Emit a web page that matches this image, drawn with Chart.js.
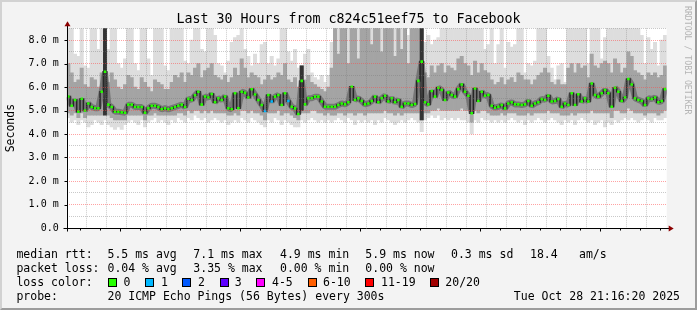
<!DOCTYPE html>
<html lang="en">
<head>
<meta charset="UTF-8">
<title>Last 30 Hours from c824c51eef75 to Facebook</title>
<style>
    body { margin: 0; background: #f3f3f3; }
    #wrap { position: relative; width: 697px; height: 310px; background: #f3f3f3; font-family: 'DejaVu Sans Mono', monospace; color: #000; overflow: hidden; }
    #chart { position: absolute; left: 0; top: 0; }
    .frame { position: absolute; left: 0; top: 0; width: 697px; height: 310px; box-sizing: border-box; border: 2px solid; border-color: #d2d2d2 #9c9c9c #9c9c9c #d2d2d2; pointer-events: none; }
    .title { position: absolute; left: 0; width: 697px; top: 10px; text-align: center; font-size: 13.3px; line-height: 18px; }
    .mark { position: absolute; left: 683px; top: 6px; writing-mode: vertical-rl; font-size: 8.2px; line-height: 10px; color: #b4b4b4; }
    .t { position: absolute; font-size: 11.5px; line-height: 14px; white-space: pre; }
    .box { position: absolute; top: 278px; width: 7px; height: 7px; border: 1px solid #000; }
</style>
</head>
<body>
<div id="wrap">
    <canvas id="chart" width="697" height="310"></canvas>
    <div class="title">Last 30 Hours from c824c51eef75 to Facebook</div>
    <div class="mark">RRDTOOL / TOBI OETIKER</div>

    <div class="t" style="left:16.4px;top:247px">median rtt:</div>
    <div class="t" style="left:107.5px;top:247px">5.5 ms avg</div>
    <div class="t" style="left:193.3px;top:247px">7.1 ms max</div>
    <div class="t" style="left:280px;top:247px">4.9 ms min</div>
    <div class="t" style="left:365.3px;top:247px">5.9 ms now</div>
    <div class="t" style="left:451px;top:247px">0.3 ms sd</div>
    <div class="t" style="left:530px;top:247px">18.4</div>
    <div class="t" style="left:579px;top:247px">am/s</div>

    <div class="t" style="left:16.4px;top:261px">packet loss:</div>
    <div class="t" style="left:107.5px;top:261px">0.04 % avg</div>
    <div class="t" style="left:193.3px;top:261px">3.35 % max</div>
    <div class="t" style="left:280px;top:261px">0.00 % min</div>
    <div class="t" style="left:365.3px;top:261px">0.00 % now</div>

    <div class="t" style="left:16.4px;top:275px">loss color:</div>
    <div class="box" style="left:108px;background:#26ff00"></div><div class="t" style="left:123.5px;top:275px">0</div>
    <div class="box" style="left:145.3px;background:#00b8ff"></div><div class="t" style="left:161px;top:275px">1</div>
    <div class="box" style="left:182px;background:#0059ff"></div><div class="t" style="left:198px;top:275px">2</div>
    <div class="box" style="left:219.5px;background:#5e00ff"></div><div class="t" style="left:234.7px;top:275px">3</div>
    <div class="box" style="left:256.4px;background:#ff00ff"></div><div class="t" style="left:272px;top:275px">4-5</div>
    <div class="box" style="left:307.5px;background:#ff5e00"></div><div class="t" style="left:323px;top:275px">6-10</div>
    <div class="box" style="left:365.3px;background:#ff0000"></div><div class="t" style="left:381px;top:275px">11-19</div>
    <div class="box" style="left:429.8px;background:#a10000"></div><div class="t" style="left:445.3px;top:275px">20/20</div>

    <div class="t" style="left:16.4px;top:289px">probe:</div>
    <div class="t" style="left:107.5px;top:289px">20 ICMP Echo Pings (56 Bytes) every 300s</div>
    <div class="t" style="right:17px;top:289px">Tue Oct 28 21:16:20 2025</div>

    <div class="frame"></div>
</div>
<script src="https://cdn.jsdelivr.net/npm/chart.js"></script>
<script>
    // time axis: minutes since Mon 00:00, one sample every 10 minutes from Mon 15:20
    const startMinute = 920;
    const stepMinutes = 10;
    const timeTickValues = [1080, 1440, 1800, 2160, 2520];
    const timeTickLabels = ['Mon 18:00', 'Tue 00:00', 'Tue 06:00', 'Tue 12:00', 'Tue 18:00'];

    // median rtt (ms)
    const median = [
        5.60, 5.20, 5.45, 4.95, 5.50, 5.00, 5.30, 5.15, 5.10, 5.10,
        5.80, 6.65, 5.25, 5.15, 4.95, 4.95, 4.92, 4.90, 5.25, 5.25,
        5.15, 5.15, 5.15, 4.90, 5.10, 5.20, 5.20, 5.15, 5.05, 5.10,
        5.05, 5.10, 5.15, 5.20, 5.25, 5.15, 5.50, 5.45, 5.65, 5.80,
        5.25, 5.60, 5.55, 5.70, 5.35, 5.52, 5.45, 5.60, 5.10, 5.05,
        5.73, 5.10, 5.80, 5.75, 5.55, 5.90, 5.68, 5.45, 5.23, 4.98,
        5.66, 5.38, 5.59, 5.66, 5.23, 5.73, 5.40, 5.16, 5.09, 4.85,
        6.26, 5.26, 5.52, 5.52, 5.59, 5.59, 5.38, 5.16, 5.16, 5.16,
        5.16, 5.23, 5.30, 5.26, 5.35, 6.01, 5.45, 5.52, 5.40, 5.26,
        5.30, 5.40, 5.59, 5.35, 5.52, 5.63, 5.38, 5.52, 5.35, 5.45,
        5.16, 5.30, 5.30, 5.23, 5.28, 6.26, 7.08, 5.35, 5.26, 5.83,
        5.59, 5.97, 5.87, 5.45, 5.77, 5.66, 5.59, 5.91, 6.11, 5.80,
        5.63, 4.88, 5.94, 5.40, 5.80, 5.63, 5.66, 5.20, 5.12, 5.16,
        5.23, 5.09, 5.30, 5.35, 5.26, 5.26, 5.23, 5.26, 5.40, 5.20,
        5.30, 5.35, 5.49, 5.45, 5.63, 5.38, 5.40, 5.49, 5.16, 5.30,
        5.23, 5.73, 5.23, 5.69, 5.38, 5.52, 5.38, 6.15, 5.66, 5.59,
        5.73, 5.87, 5.73, 5.16, 5.97, 5.80, 5.40, 5.55, 6.34, 6.11,
        5.52, 5.45, 5.40, 5.23, 5.52, 5.49, 5.55, 5.35, 5.40, 5.91
    ];

    // outer smoke (fastest ping .. slowest ping)
    const smokeLow = [
        4.7, 4.5, 4.6, 4.4, 4.6, 4.5, 4.3, 4.4, 4.6, 4.5,
        4.4, 4.6, 4.4, 4.3, 4.2, 4.3, 4.2, 4.4, 4.5, 4.6,
        4.5, 4.4, 4.6, 4.3, 4.5, 4.6, 4.7, 4.5, 4.6, 4.5,
        4.4, 4.6, 4.5, 4.7, 4.6, 4.5, 4.7, 4.6, 4.8, 4.7,
        4.6, 4.7, 4.5, 4.6, 4.7, 4.6, 4.5, 4.6, 4.4, 4.5,
        4.6, 4.5, 4.7, 4.6, 4.5, 4.7, 4.6, 4.5, 4.4, 4.3,
        4.6, 4.5, 4.7, 4.6, 4.4, 4.6, 4.5, 4.4, 4.3, 4.3,
        4.6, 4.5, 4.6, 4.7, 4.6, 4.5, 4.6, 4.5, 4.6, 4.5,
        4.6, 4.7, 4.6, 4.5, 4.7, 4.6, 4.4, 4.6, 4.5, 4.6,
        4.5, 4.6, 4.4, 4.6, 4.5, 4.7, 4.6, 4.5, 4.4, 4.5,
        4.6, 4.5, 4.6, 4.7, 4.6, 4.5, 4.1, 4.6, 4.7, 4.8,
        4.7, 4.8, 4.6, 4.7, 4.6, 4.7, 4.6, 4.7, 4.6, 4.6,
        4.5, 4.0, 4.6, 4.5, 4.7, 4.6, 4.6, 4.5, 4.6, 4.5,
        4.6, 4.5, 4.6, 4.7, 4.6, 4.5, 4.6, 4.4, 4.6, 4.5,
        4.6, 4.7, 4.6, 4.5, 4.6, 4.7, 4.6, 4.5, 4.4, 4.6,
        4.5, 4.6, 4.4, 4.6, 4.7, 4.6, 4.5, 4.6, 4.4, 4.5,
        4.6, 4.3, 4.5, 4.4, 4.6, 4.5, 4.6, 4.7, 4.6, 4.7,
        4.6, 4.5, 4.6, 4.7, 4.6, 4.5, 4.7, 4.6, 4.6, 4.7
    ];
    const smokeTop = [
        8.5, 8.5, 7.4, 7.3, 8.5, 6.9, 6.8, 8.5, 8.5, 7.6,
        8.5, 8.5, 7.6, 8.5, 8.5, 7.0, 6.8, 7.2, 8.5, 8.5,
        7.0, 6.7, 8.5, 8.5, 7.2, 6.5, 8.5, 8.5, 8.5, 6.9,
        6.7, 8.5, 8.5, 8.5, 8.5, 7.1, 7.0, 8.0, 8.5, 8.5,
        7.6, 7.5, 8.5, 8.5, 8.2, 7.0, 6.9, 6.6, 7.1, 7.9,
        8.1, 8.2, 8.5, 7.6, 7.3, 6.9, 7.4, 7.0, 7.8, 7.9,
        7.0, 7.3, 6.9, 7.2, 8.5, 8.5, 7.5, 7.1, 7.6, 6.8,
        6.9, 7.4, 7.6, 6.6, 6.4, 6.3, 6.5, 6.2, 6.5, 7.9,
        8.5, 8.5, 8.5, 8.5, 8.5, 8.5, 8.5, 8.5, 8.5, 8.5,
        8.5, 8.5, 8.5, 8.5, 8.5, 8.5, 8.5, 8.5, 8.5, 8.5,
        8.5, 8.5, 8.2, 8.5, 8.5, 8.5, 8.5, 7.9, 8.2, 7.8,
        8.0, 8.1, 8.5, 8.5, 8.5, 8.5, 8.5, 8.5, 8.5, 8.5,
        8.5, 8.5, 8.5, 8.5, 8.5, 7.6, 7.8, 8.5, 7.0, 7.8,
        8.5, 6.8, 7.9, 7.7, 7.8, 8.5, 8.5, 6.6, 7.0, 6.9,
        7.1, 8.5, 8.5, 8.5, 7.3, 6.8, 6.3, 6.9, 7.0, 6.2,
        8.5, 8.5, 8.5, 8.5, 8.5, 8.5, 7.0, 8.5, 8.5, 8.5,
        7.2, 8.1, 8.5, 8.5, 8.5, 8.5, 8.5, 8.5, 8.5, 8.5,
        8.5, 8.5, 8.2, 7.0, 8.1, 7.6, 7.9, 6.9, 8.0, 8.2
    ];

    // inner smoke
    const midLow = [
        4.9, 4.8, 4.9, 4.7, 4.9, 4.7, 4.8, 4.8, 4.8, 4.8,
        4.8, 4.9, 4.8, 4.7, 4.6, 4.6, 4.6, 4.6, 4.8, 4.8,
        4.8, 4.8, 4.8, 4.6, 4.8, 4.8, 4.9, 4.8, 4.8, 4.8,
        4.8, 4.8, 4.8, 4.9, 4.9, 4.8, 5.0, 4.9, 5.0, 5.0,
        4.9, 5.0, 4.9, 5.0, 4.9, 4.9, 4.9, 4.9, 4.8, 4.8,
        4.9, 4.8, 5.0, 5.0, 4.9, 5.0, 4.9, 4.9, 4.8, 4.6,
        4.9, 4.9, 4.9, 5.0, 4.8, 4.9, 4.9, 4.8, 4.7, 4.6,
        4.9, 4.9, 4.9, 5.0, 5.0, 4.9, 4.9, 4.8, 4.9, 4.8,
        4.8, 4.9, 4.9, 4.8, 4.9, 4.9, 4.8, 4.9, 4.9, 4.8,
        4.9, 4.9, 4.9, 4.9, 4.9, 5.0, 4.9, 4.9, 4.8, 4.9,
        4.8, 4.9, 4.9, 4.9, 4.9, 4.9, 4.6, 4.9, 4.9, 5.0,
        5.0, 5.1, 5.0, 5.0, 5.0, 5.0, 5.0, 5.0, 5.1, 5.0,
        5.0, 4.5, 5.0, 4.9, 5.0, 5.0, 4.9, 4.8, 4.8, 4.8,
        4.9, 4.8, 4.9, 4.9, 4.9, 4.8, 4.8, 4.8, 4.9, 4.8,
        4.9, 4.9, 4.9, 4.9, 5.0, 4.9, 4.9, 4.9, 4.8, 4.8,
        4.8, 4.9, 4.8, 4.9, 4.9, 4.9, 4.9, 5.0, 4.9, 4.9,
        4.9, 4.9, 4.9, 4.7, 5.0, 5.0, 4.9, 4.9, 5.1, 5.0,
        4.9, 4.9, 4.9, 4.8, 4.9, 4.9, 4.9, 4.8, 4.9, 5.0
    ];
    const midTop = [
        7.0, 6.6, 6.2, 6.3, 6.8, 6.1, 6.0, 6.4, 6.3, 6.0,
        6.6, 8.5, 6.2, 6.6, 6.3, 6.0, 5.9, 6.1, 6.5, 6.4,
        6.0, 5.9, 6.4, 6.2, 6.0, 5.8, 6.3, 6.2, 6.1, 5.9,
        5.9, 6.2, 6.5, 6.4, 6.6, 6.2, 6.6, 6.5, 6.8, 7.0,
        6.4, 6.7, 6.8, 7.0, 6.5, 6.4, 6.3, 6.5, 6.2, 6.4,
        6.8, 6.5, 7.2, 6.8, 6.4, 6.6, 6.5, 6.4, 6.1, 6.3,
        6.5, 6.3, 6.4, 6.6, 6.5, 7.0, 6.3, 6.2, 6.4, 6.0,
        6.9, 6.3, 6.5, 6.2, 6.1, 6.0, 5.9, 5.8, 6.0, 6.8,
        8.5, 7.4, 8.5, 8.5, 7.0, 8.5, 8.5, 7.2, 8.5, 8.5,
        8.5, 7.8, 8.5, 8.5, 7.5, 8.5, 8.5, 8.5, 7.3, 8.5,
        7.6, 8.5, 7.0, 8.5, 8.5, 8.5, 8.5, 6.6, 6.4, 6.9,
        6.6, 6.9, 7.0, 6.6, 6.9, 6.8, 6.7, 7.2, 7.3, 7.0,
        6.9, 6.5, 7.1, 6.6, 7.0, 6.7, 6.6, 6.3, 6.1, 6.2,
        6.4, 6.1, 6.3, 6.4, 6.2, 6.6, 6.5, 6.3, 6.3, 6.1,
        6.3, 6.5, 6.6, 6.8, 6.6, 6.2, 6.1, 6.3, 6.1, 6.1,
        6.8, 7.0, 6.6, 7.0, 6.8, 6.9, 6.4, 7.4, 6.9, 6.8,
        7.0, 7.1, 7.0, 6.6, 7.2, 7.0, 6.6, 6.8, 7.5, 7.3,
        6.7, 6.6, 6.5, 6.3, 6.6, 6.5, 6.6, 6.4, 6.5, 6.9
    ];

    // samples with one lost ping (drawn blue), and the black smoke spikes
    const lossPoints = [59, 61, 66];
    const spikeIdx = [11, 70, 106];
    const spikeLow = [4.8, 5.0, 4.6];
    const spikeHigh = [8.5, 6.9, 8.5];

    const FONT = "'DejaVu Sans Mono', monospace";
    const RED_GRID = 'rgba(255, 70, 70, 0.5)';
    const GRAY_GRID = 'rgba(120, 120, 120, 0.4)';

    const xs = median.map((_, i) => startMinute + stepMinutes * i + stepMinutes / 2);
    const band = (lo, hi) => xs.map((x, i) => ({ x: x, y: [lo[i], hi[i]] }));
    const medianPts = xs.map((x, i) => ({ x: x, y: median[i] }));

    const barOpts = { grouped: false, barPercentage: 1, categoryPercentage: 1, borderWidth: 0 };

    // white plot area
    const plotBg = {
        id: 'plotBg',
        beforeDraw(chart) {
            const a = chart.chartArea;
            chart.ctx.save();
            chart.ctx.fillStyle = '#ffffff';
            chart.ctx.fillRect(a.left, a.top, a.right - a.left, a.bottom - a.top);
            chart.ctx.restore();
        }
    };

    // rrdtool style axes with arrows and tick marks
    const axes = {
        id: 'axes',
        afterDraw(chart) {
            const ctx = chart.ctx;
            const a = chart.chartArea;
            const x = chart.scales.x, y = chart.scales.y;
            const bx = Math.round(a.left) + 0.5, by = Math.round(a.bottom) + 0.5;
            ctx.save();
            ctx.strokeStyle = '#000';
            ctx.lineWidth = 1;
            ctx.beginPath();
            ctx.moveTo(bx - 4, by); ctx.lineTo(a.right + 3, by);
            ctx.moveTo(bx, by + 3); ctx.lineTo(bx, a.top - 3);
            for (let m = 960; m < 2720; m += 60) {
                const px = Math.round(x.getPixelForValue(m)) + 0.5;
                ctx.moveTo(px, by); ctx.lineTo(px, by + (timeTickValues.includes(m) ? 3 : 2));
            }
            for (let v = 1; v <= 8; v++) {
                const py = Math.round(y.getPixelForValue(v)) + 0.5;
                ctx.moveTo(bx - 3, py); ctx.lineTo(bx, py);
            }
            ctx.stroke();
            ctx.fillStyle = '#8b0000';
            ctx.beginPath();
            ctx.moveTo(a.right + 2, by - 3); ctx.lineTo(a.right + 7, by); ctx.lineTo(a.right + 2, by + 3);
            ctx.closePath(); ctx.fill();
            ctx.beginPath();
            ctx.moveTo(bx - 3, a.top - 2); ctx.lineTo(bx, a.top - 7); ctx.lineTo(bx + 3, a.top - 2);
            ctx.closePath(); ctx.fill();
            ctx.restore();
        }
    };

    new Chart(document.getElementById('chart'), {
        type: 'bar',
        data: {
            datasets: [
                Object.assign({ label: 'smoke outer', data: band(smokeLow, smokeTop), backgroundColor: '#dddddd', order: 6 }, barOpts),
                Object.assign({ label: 'smoke inner', data: band(midLow, midTop), backgroundColor: '#a4a4a4', order: 5 }, barOpts),
                Object.assign({
                    label: 'spikes',
                    data: spikeIdx.map((k, j) => ({ x: xs[k], y: [spikeLow[j], spikeHigh[j]] })),
                    backgroundColor: '#333333', order: 4
                }, barOpts),
                {
                    type: 'line', label: 'core', data: medianPts, order: 3,
                    borderColor: 'rgba(80, 80, 80, 0.55)', borderWidth: 6, borderJoinStyle: 'bevel',
                    pointRadius: 0, tension: 0
                },
                {
                    type: 'line', label: 'core dark', data: medianPts, order: 2,
                    borderColor: '#262626', borderWidth: 1.5, stepped: 'middle',
                    pointRadius: 0
                },
                {
                    type: 'line', label: 'median rtt', data: medianPts, order: 1, showLine: false,
                    pointStyle: 'rect', pointRadius: 1.8, pointBorderWidth: 0,
                    pointBackgroundColor: ctx => lossPoints.includes(ctx.dataIndex) ? '#00b8ff' : '#26ff00'
                }
            ]
        },
        options: {
            responsive: false,
            animation: false,
            events: [],
            layout: { padding: { left: 0, top: 28.25, right: 30.3, bottom: 62 } },
            plugins: { legend: { display: false }, tooltip: { enabled: false } },
            scales: {
                x: {
                    type: 'linear', min: startMinute, max: startMinute + 1800, offset: false,
                    grid: {
                        z: 1, offset: false, drawTicks: false, lineWidth: 1,
                        color: c => {
                            const v = c.tick.value;
                            if (v <= startMinute || v >= startMinute + 1800) return 'rgba(0,0,0,0)';
                            return v % 180 === 0 ? RED_GRID : GRAY_GRID;
                        }
                    },
                    border: { display: false, dash: [1, 1] },
                    ticks: {
                        stepSize: 60, autoSkip: false, maxRotation: 0, padding: 4, color: '#000',
                        font: { family: FONT, size: 10 },
                        callback: v => {
                            const k = timeTickValues.indexOf(v);
                            return k >= 0 ? timeTickLabels[k] : '';
                        }
                    },
                    afterFit: s => { s.height = 20; }
                },
                y: {
                    min: 0, max: 8.5,
                    grid: {
                        z: 1, drawTicks: false, lineWidth: 1,
                        color: c => {
                            const v = c.tick.value;
                            if (v === 0) return 'rgba(0,0,0,0)';
                            return Number.isInteger(v) ? RED_GRID : GRAY_GRID;
                        }
                    },
                    border: { display: false, dash: [1, 1] },
                    ticks: {
                        stepSize: 0.5, padding: 8, color: '#000', autoSkip: false,
                        font: { family: FONT, size: 10 },
                        callback: v => Number.isInteger(v) ? (v === 0 ? '0.0' : v.toFixed(1) + ' m') : ''
                    },
                    title: { display: true, text: 'Seconds', color: '#000', font: { family: FONT, size: 11.5 }, padding: { top: 4, bottom: 0 } },
                    afterFit: s => { s.width = 66.7; }
                }
            }
        },
        plugins: [plotBg, axes]
    });
</script>
</body>
</html>
